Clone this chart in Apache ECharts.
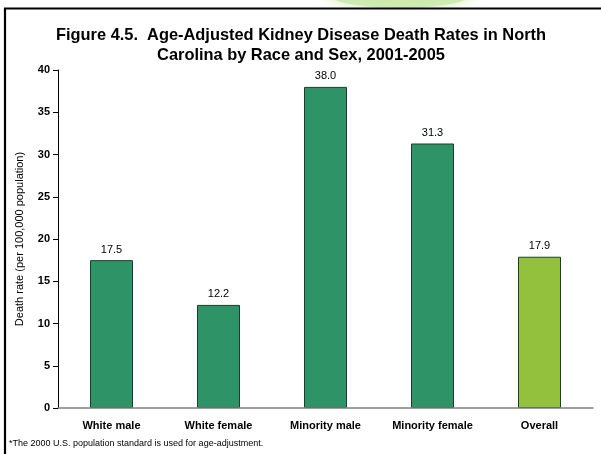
<!DOCTYPE html>
<html>
<head>
<meta charset="utf-8">
<script src="https://cdn.jsdelivr.net/npm/echarts@6/dist/echarts.min.js"></script>
<style>
  html, body { margin: 0; padding: 0; background: #fff; }
  #chart { width: 601px; height: 454px; }
</style>
</head>
<body>
<div id="chart"></div>
<script>
// Age-adjusted kidney disease death rates, NC 2001-2005
const categories = ['White male', 'White female', 'Minority male', 'Minority female', 'Overall'];
const rates = [17.5, 12.2, 38.0, 31.3, 17.9];
const barColors = ['#2e9467', '#2e9467', '#2e9467', '#2e9467', '#93c13e'];
const yTicks = [0, 5, 10, 15, 20, 25, 30, 35, 40];

const chart = echarts.init(document.getElementById('chart'), null, { renderer: 'canvas' });

chart.setOption({
  backgroundColor: '#ffffff',
  animation: false,
  textStyle: { fontFamily: 'Liberation Sans, Arial, sans-serif' },
  title: {
    text: 'Figure 4.5.  Age-Adjusted Kidney Disease Death Rates in North\nCarolina by Race and Sex, 2001-2005',
    left: 296,
    textAlign: 'center',
    top: 20,
    textStyle: {
      fontFamily: 'Liberation Sans, Arial, sans-serif',
      fontSize: 16.4,
      fontWeight: 'bold',
      color: '#000',
      lineHeight: 20
    }
  },
  graphic: [
    {
      type: 'ellipse',
      shape: { cx: 400, cy: -6, rx: 72, ry: 14 },
      style: { fill: '#c9e8a8', shadowBlur: 14, shadowColor: '#c9e8a8', opacity: 0.8 },
      z: -2
    },
    {
      type: 'rect',
      shape: { x: 0, y: 9, width: 601, height: 445 },
      style: { fill: '#ffffff' },
      z: -1
    },
    {
      type: 'polyline',
      shape: { points: [[5, 454], [5, 8.5], [601, 8.5]] },
      style: { stroke: '#000', lineWidth: 2.2, fill: null },
      z: 3
    },
    {
      type: 'text',
      left: 9,
      top: 439,
      style: {
        text: '*The 2000 U.S. population standard is used for age-adjustment.',
        fontFamily: 'Liberation Sans, Arial, sans-serif',
        fontSize: 9,
        fill: '#000'
      },
      z: 3
    }
  ],
  grid: { left: 58, right: 8, top: 70, bottom: 46 },
  xAxis: {
    type: 'category',
    data: categories,
    z: 5,
    axisLine: { lineStyle: { color: '#808080', width: 1.5 } },
    axisTick: { show: false },
    axisLabel: {
      margin: 12,
      color: '#000',
      fontWeight: 'bold',
      fontSize: 11,
      fontFamily: 'Liberation Sans, Arial, sans-serif'
    }
  },
  yAxis: {
    type: 'value',
    min: 0,
    max: 40,
    interval: 5,
    z: 5,
    name: 'Death rate (per 100,000 population)',
    nameLocation: 'middle',
    nameGap: 33,
    nameTextStyle: { fontSize: 11, color: '#000', fontFamily: 'Liberation Sans, Arial, sans-serif' },
    splitLine: { show: false },
    axisLine: { show: true, lineStyle: { color: '#000', width: 1 } },
    axisTick: { show: true, inside: false, length: 5, lineStyle: { color: '#000' } },
    axisLabel: {
      margin: 8,
      color: '#000',
      fontWeight: 'bold',
      fontSize: 11,
      fontFamily: 'Liberation Sans, Arial, sans-serif',
      formatter: v => yTicks.includes(v) ? String(v) : ''
    }
  },
  series: [{
    type: 'bar',
    barWidth: 43,
    data: rates.map((v, i) => ({
      value: v,
      itemStyle: { color: barColors[i], borderColor: '#1e3d2c', borderWidth: 1 }
    })),
    label: {
      show: true,
      position: 'top',
      distance: 5,
      color: '#000',
      fontSize: 11,
      fontFamily: 'Liberation Sans, Arial, sans-serif',
      formatter: p => p.value.toFixed(1)
    },
    z: 4
  }]
});
</script>
</body>
</html>
